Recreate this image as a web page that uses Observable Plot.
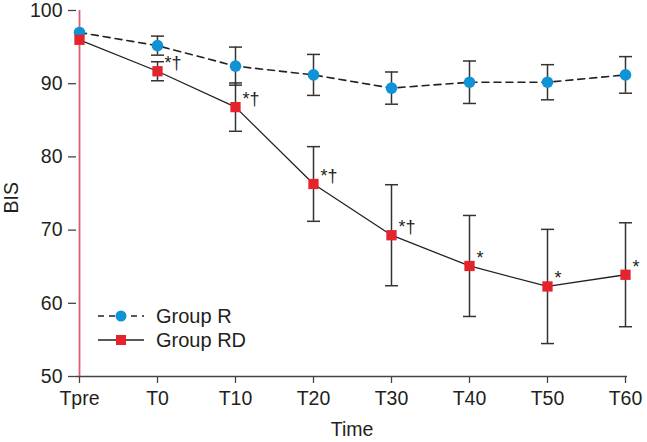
<!DOCTYPE html>
<html>
<head>
<meta charset="utf-8">
<script src="https://cdn.jsdelivr.net/npm/d3@7"></script>
<script src="https://cdn.jsdelivr.net/npm/@observablehq/plot@0.6"></script>
<style>
  html, body { margin: 0; padding: 0; background: #fff; }
  #wrap { position: relative; width: 647px; height: 442px; font-family: "Liberation Sans", Arial, sans-serif; }
  #legend { position: absolute; left: 96px; top: 303px; }
</style>
</head>
<body>
<div id="wrap"></div>
<script>
const categories = ["Tpre", "T0", "T10", "T20", "T30", "T40", "T50", "T60"];
const groupRMean = [97.0, 95.2, 92.4, 91.2, 89.4, 90.2, 90.2, 91.2];
const groupRSD = [null, 1.3, 2.6, 2.8, 2.2, 2.9, 2.4, 2.5];
const groupRDMean = [96.0, 91.7, 86.8, 76.3, 69.3, 65.1, 62.3, 63.9];
const groupRDSD = [null, 1.3, 3.3, 5.1, 6.9, 6.9, 7.8, 7.1];
const annotations = ["", "*†", "*†", "*†", "*†", "*", "*", "*"];
const yTicks = [50, 60, 70, 80, 90, 100];

const blue = "#0d93d6";
const red = "#e5232b";
const ink = "#231f20";

const rRows = categories.map((t, i) => ({time: t, mean: groupRMean[i], sd: groupRSD[i]}));
const rdRows = categories.map((t, i) => ({time: t, mean: groupRDMean[i], sd: groupRDSD[i], ann: annotations[i]}));
const errRows = [...rRows, ...rdRows].filter(d => d.sd != null)
  .map(d => ({time: d.time, lo: d.mean - d.sd, hi: d.mean + d.sd}));

const capSymbol = {draw(context) { context.moveTo(-6.5, 0); context.lineTo(6.5, 0); }};

const chart = Plot.plot({
  width: 647,
  height: 442,
  marginLeft: 76,
  marginRight: 20,
  marginTop: 10,
  marginBottom: 66,
  style: {fontFamily: "'Liberation Sans', Arial, sans-serif", fontSize: "19px", color: ink, background: "#fff"},
  x: {type: "point", domain: categories, padding: 0, axis: null},
  y: {domain: [50, 100], axis: null},
  marks: [
    Plot.axisY({ticks: yTicks, tickSize: 8, tickPadding: 6, fontSize: 19.5, label: null, color: ink, stroke: "#444", strokeWidth: 1.3}),
    Plot.axisX({tickSize: 7, tickPadding: 8, fontSize: 19.5, label: null, color: ink, stroke: "#444", strokeWidth: 1.3}),
    Plot.ruleY([50], {stroke: "#444", strokeWidth: 1.5}),
    Plot.ruleX([categories[0]], {stroke: "#d9606a", strokeWidth: 1.8}),
    Plot.line(rRows, {x: "time", y: "mean", stroke: "#222", strokeWidth: 1.6, strokeDasharray: "7,5"}),
    Plot.line(rdRows, {x: "time", y: "mean", stroke: "#222", strokeWidth: 1.3}),
    Plot.ruleX(errRows, {x: "time", y1: "lo", y2: "hi", stroke: "#333", strokeWidth: 1.5}),
    Plot.dot(errRows, {x: "time", y: "lo", symbol: capSymbol, fill: "none", stroke: "#333", strokeWidth: 1.5}),
    Plot.dot(errRows, {x: "time", y: "hi", symbol: capSymbol, fill: "none", stroke: "#333", strokeWidth: 1.5}),
    Plot.dot(rRows, {x: "time", y: "mean", r: 5.8, fill: blue, stroke: null}),
    Plot.dot(rdRows, {x: "time", y: "mean", symbol: "square", r: 5.8, fill: red, stroke: null}),
    Plot.text(rdRows.filter(d => d.ann), {x: "time", y: "mean", text: "ann", dx: 7, dy: -8, textAnchor: "start", fontSize: 18, fill: ink}),
    Plot.text(["BIS"], {frameAnchor: "left", dx: -65, dy: 20, rotate: -90, fontSize: 19.5, fill: ink}),
    Plot.text(["Time"], {frameAnchor: "bottom", dy: 59, fontSize: 19.5, fill: ink})
  ]
});
document.getElementById("wrap").appendChild(chart);

// legend overlay
const legend = d3.select("#wrap").append("svg").attr("id", "legend")
  .attr("width", 200).attr("height", 52)
  .style("font-family", "'Liberation Sans', Arial, sans-serif");
const items = [
  {label: "Group R", dash: "6,5", color: blue, shape: "circle"},
  {label: "Group RD", dash: null, color: red, shape: "square"}
];
items.forEach((it, i) => {
  const cy = 13 + i * 24;
  const g = legend.append("g");
  g.append("line").attr("x1", 2).attr("x2", 48).attr("y1", cy).attr("y2", cy)
    .attr("stroke", "#222").attr("stroke-width", 1.4).attr("stroke-dasharray", it.dash);
  if (it.shape === "circle") g.append("circle").attr("cx", 25).attr("cy", cy).attr("r", 5.5).attr("fill", it.color);
  else g.append("rect").attr("x", 20).attr("y", cy - 5).attr("width", 10).attr("height", 10).attr("fill", it.color);
  g.append("text").attr("x", 60).attr("y", cy).attr("dy", "0.35em").attr("font-size", 20).attr("fill", ink).text(it.label);
});
</script>
</body>
</html>
